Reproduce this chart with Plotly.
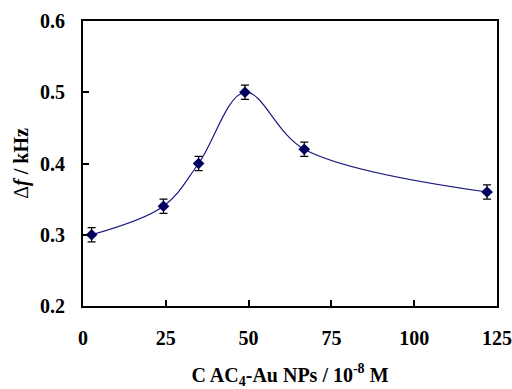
import plotly.graph_objects as go

conc = [2.6, 24.3, 34.9, 48.9, 66.8, 122.0]
delta_f = [0.30, 0.34, 0.40, 0.50, 0.42, 0.36]
err = [0.01, 0.01, 0.01, 0.01, 0.01, 0.01]
x_ticks = [0, 25, 50, 75, 100, 125]
y_ticks = [0.2, 0.3, 0.4, 0.5, 0.6]

fig = go.Figure()
fig.add_trace(go.Scatter(
    x=conc, y=delta_f,
    mode="lines+markers",
    line=dict(color="#1a1a80", width=1.2, shape="spline", smoothing=1.0),
    marker=dict(symbol="diamond", size=9, color="#00005e"),
    error_y=dict(type="data", array=err, visible=True, color="black", thickness=1.2, width=4),
    showlegend=False,
))

font_family = "Liberation Serif"
fig.update_layout(
    width=512, height=389,
    margin=dict(l=83, r=15, t=21, b=83),
    paper_bgcolor="white", plot_bgcolor="white",
    font=dict(family=font_family, color="black"),
    xaxis=dict(
        range=[0, 125], tickvals=x_ticks, ticktext=[f"<b>{v}</b>" for v in x_ticks],
        ticks="inside", ticklen=6, tickwidth=2, tickcolor="black",
        showline=True, linecolor="black", linewidth=2, mirror=True,
        showgrid=False, zeroline=False, ticklabelstandoff=13, automargin=False,
        tickfont=dict(size=20, family=font_family),
        title=dict(text="<b>C AC<sub>4</sub>-Au NPs / 10<sup>-8</sup> M</b>",
                   font=dict(size=20, family=font_family), standoff=22),
    ),
    yaxis=dict(
        range=[0.2, 0.6], tickvals=y_ticks, ticktext=[f"<b>{v:.1f}</b>" for v in y_ticks],
        ticks="inside", ticklen=6, tickwidth=2, tickcolor="black",
        showline=True, linecolor="black", linewidth=2, mirror=True,
        showgrid=False, zeroline=False, ticklabelstandoff=12, automargin=False,
        tickfont=dict(size=20, family=font_family),
        title=dict(text="Δ<b><i>f</i> / kHz</b>",
                   font=dict(size=20, family=font_family), standoff=6),
    ),
)
fig.write_html("out.html", config={"displayModeBar": False},
               post_script="document.body.style.margin='0';")
